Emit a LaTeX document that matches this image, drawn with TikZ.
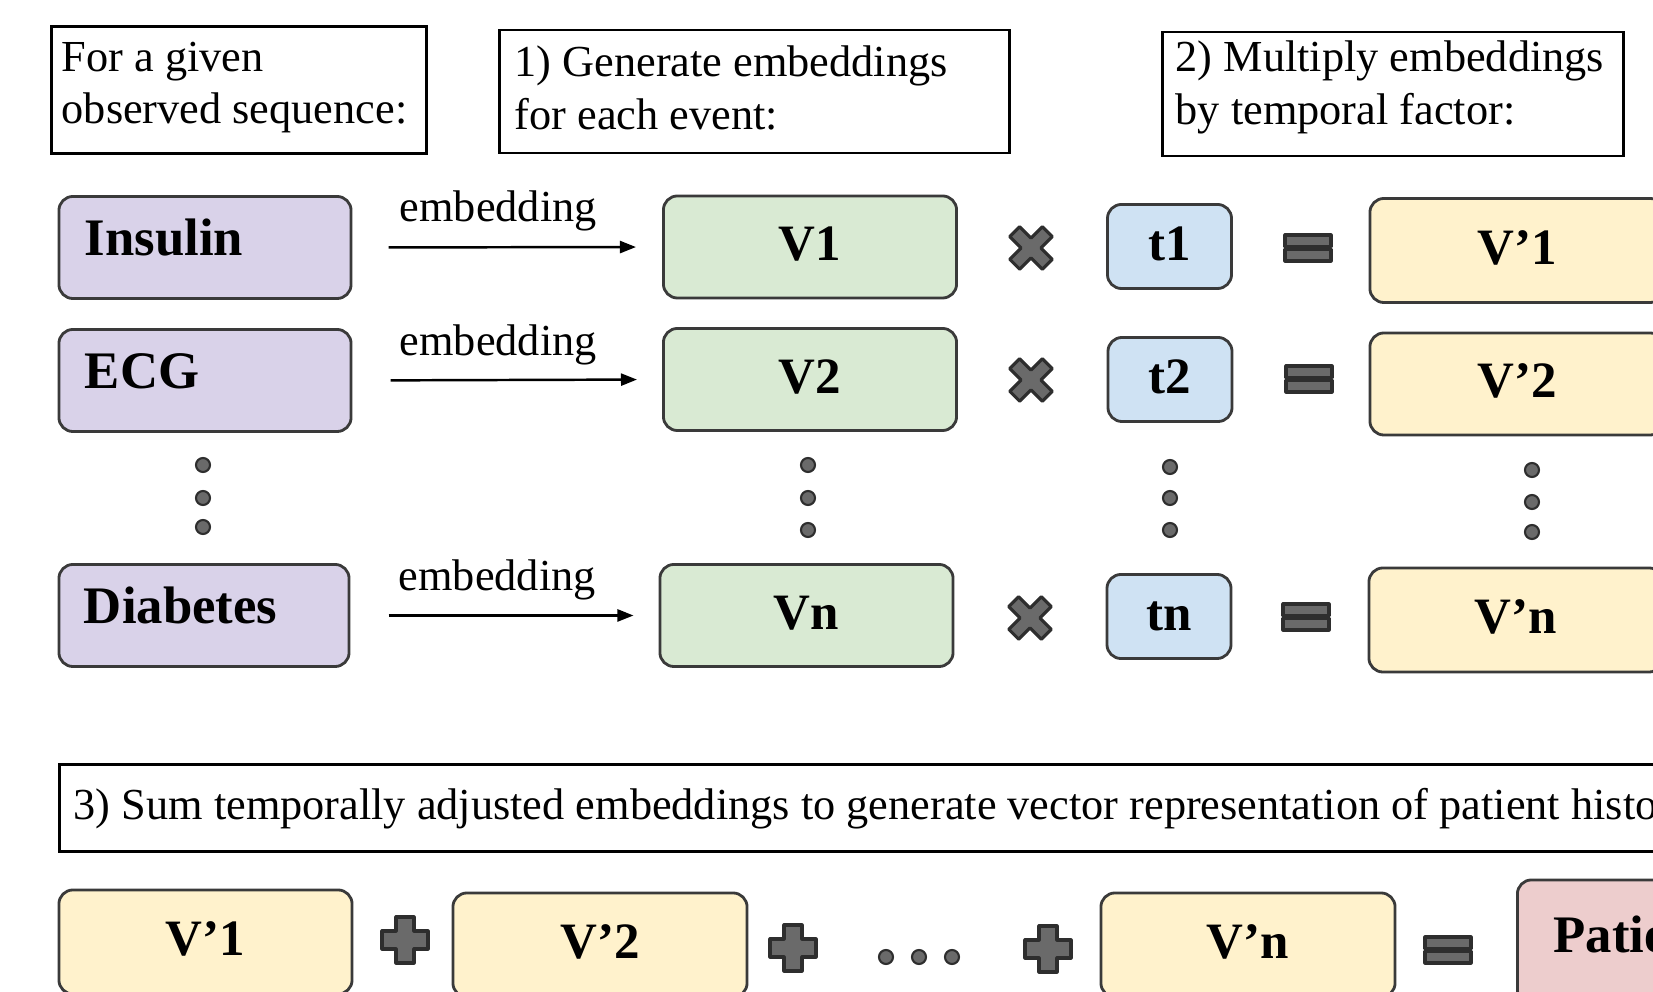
\documentclass[tikz,border=0pt]{standalone}
\usepackage{fontspec}
\setmainfont{Liberation Serif}
\usetikzlibrary{arrows.meta}

\definecolor{evpurple}{HTML}{D9D2E9}
\definecolor{embgreen}{HTML}{D9EAD3}
\definecolor{timeblue}{HTML}{CFE2F3}
\definecolor{adjyellow}{HTML}{FFF2CC}
\definecolor{patpink}{HTML}{EDCDCD}
\definecolor{edgegray}{HTML}{3A3A3A}
\definecolor{opfill}{HTML}{6A6A6A}
\definecolor{opedge}{HTML}{2E2E2E}

\tikzset{
  notebox/.style={draw=black, line width=0.8pt, minimum width=#1, inner sep=0pt},
  notetext/.style={anchor=north west, inner sep=0pt, align=left,
    font=\fontsize{12.6}{15}\selectfont},
  roundbox/.style={draw=edgegray, line width=0.8pt, rounded corners=0.14cm,
    font=\fontsize{14.5}{17}\selectfont\bfseries, inner sep=0pt,
    text height=10pt, text depth=2.3pt},
  eventbox/.style={roundbox, fill=evpurple, minimum width=2.92cm, minimum height=1.02cm,
    font=\fontsize{15}{17}\selectfont\bfseries,
    text width=2.4cm, align=left, text depth=5.2pt},
  embbox/.style={roundbox, fill=embgreen, minimum width=2.93cm, minimum height=1.02cm},
  timebox/.style={roundbox, fill=timeblue, minimum width=1.24cm, minimum height=0.84cm},
  adjbox/.style={roundbox, fill=adjyellow, minimum width=2.94cm, minimum height=1.04cm},
  patbox/.style={roundbox, fill=patpink, minimum width=3.0cm, minimum height=1.24cm,
    font=\fontsize{15}{17}\selectfont\bfseries,
    text width=2.28cm, align=left, text depth=4pt},
  embarrow/.style={draw=black, line width=0.7pt, -{Triangle[length=1.6mm, width=1.2mm]}},
  emblabel/.style={anchor=base west, inner sep=0pt, font=\fontsize{12.6}{15}\selectfont},
  opshape/.style={fill=opfill, draw=opedge, line width=0.9pt, line join=round},
  dotmark/.style={fill=opfill, draw=opedge, line width=0.6pt},
  plusop/.pic={
    \path[opshape] (-9,-23) -- (9,-23) -- (9,-9) -- (23,-9) -- (23,9) -- (9,9)
      -- (9,23) -- (-9,23) -- (-9,9) -- (-23,9) -- (-23,-9) -- (-9,-9) -- cycle;
  },
  timesop/.pic={
    \path[opshape, rotate=45] (-7,-23) -- (7,-23) -- (7,-7) -- (23,-7) -- (23,7) -- (7,7)
      -- (7,23) -- (-7,23) -- (-7,7) -- (-23,7) -- (-23,-7) -- (-7,-7) -- cycle;
  },
  equalop/.pic={
    \path[opshape] (-23,-13) rectangle (23,-1.5);
    \path[opshape] (-23,1.5) rectangle (23,13);
  }
}

\begin{document}
\begin{tikzpicture}[x=0.01cm, y=-0.01cm]
\useasboundingbox (0,0) rectangle (1653,992);
\clip (0,0) rectangle (1653,992);

% step headings
\node[notebox=3.74cm, minimum height=1.27cm] (headA) at (239,90) {};
\node[notetext] (headAtext) at (61,41) {For a given\\observed sequence:};
\node[notebox=5.09cm, minimum height=1.23cm] (headB) at (754.5,91.5) {};
\node[notetext] (headBtext) at (514,45) {1) Generate embeddings\\for each event:};
\node[notebox=4.60cm, minimum height=1.24cm] (headC) at (1393,94) {};
\node[notetext] (headCtext) at (1175,40) {2) Multiply embeddings\\by temporal factor:};

% observed events
\node[eventbox] (ins) at (205,247.5) {Insulin};
\node[eventbox] (ecg) at (205,380.5) {ECG};
\node[eventbox, minimum width=2.90cm] (dia) at (204,615.5) {Diabetes};

% embeddings
\node[embbox] (v1) at (810,247) {V1};
\node[embbox] (v2) at (810,379.5) {V2};
\node[embbox] (vn) at (806.5,615.5) {Vn};

% temporal factors
\node[timebox] (t1) at (1169.5,246.5) {t1};
\node[timebox] (t2) at (1170,379.5) {t2};
\node[timebox] (tn) at (1169,616.5) {tn};

% adjusted embeddings
\node[adjbox] (w1) at (1517,250.5) {V’1};
\node[adjbox, minimum height=1.02cm] (w2) at (1517,384) {V’2};
\node[adjbox] (wn) at (1516,620) {V’n};

% embedding arrows
\draw[embarrow, shorten <=0.36cm, shorten >=0.26cm] (ins.east) -- (v1.west)
  node[emblabel, at start, xshift=0.46cm, yshift=0.26cm] (e1) {embedding};
\draw[embarrow, shorten <=0.38cm, shorten >=0.25cm] (ecg.east) -- (v2.west)
  node[emblabel, at start, xshift=0.46cm, yshift=0.25cm] (e2) {embedding};
\draw[embarrow, shorten <=0.38cm, shorten >=0.25cm] (dia.east) -- (vn.west)
  node[emblabel, at start, xshift=0.47cm, yshift=0.25cm] (en) {embedding};

% multiplication and equality signs
\pic at (1031,248) {timesop};
\pic at (1031,380) {timesop};
\pic at (1030,618) {timesop};
\pic at (1308,248) {equalop};
\pic at (1309,379) {equalop};
\pic at (1306,617) {equalop};

% vertical ellipses
\foreach \x/\ya/\yb/\yc in {203/465/498/527, 808/465/498/530, 1170/467/498/530, 1532/470/502/532}{
  \foreach \y in {\ya,\yb,\yc}{
    \path[dotmark] (\x,\y) circle[radius=7];
  }
}

% step 3 heading
\node[notebox=17.00cm, minimum height=0.87cm, anchor=north west] (headD) at (58,763) {};
\node[notetext] (headDtext) at (73,788)
  {3) Sum temporally adjusted embeddings to generate vector representation of patient history};

% final sum
\node[adjbox, minimum width=2.93cm] (s1) at (205.5,942) {V’1};
\node[adjbox] (s2) at (600,945) {V’2};
\node[adjbox] (sn) at (1248,945) {V’n};
\node[patbox, anchor=west] (pat) at (1516,942) {Patient};

\pic at (405,940) {plusop};
\pic at (793,948) {plusop};
\pic at (1048,949) {plusop};
\pic at (1448,950) {equalop};
\foreach \x in {886,919,952}{
  \path[dotmark] (\x,957) circle[radius=7];
}
\end{tikzpicture}
\end{document}
